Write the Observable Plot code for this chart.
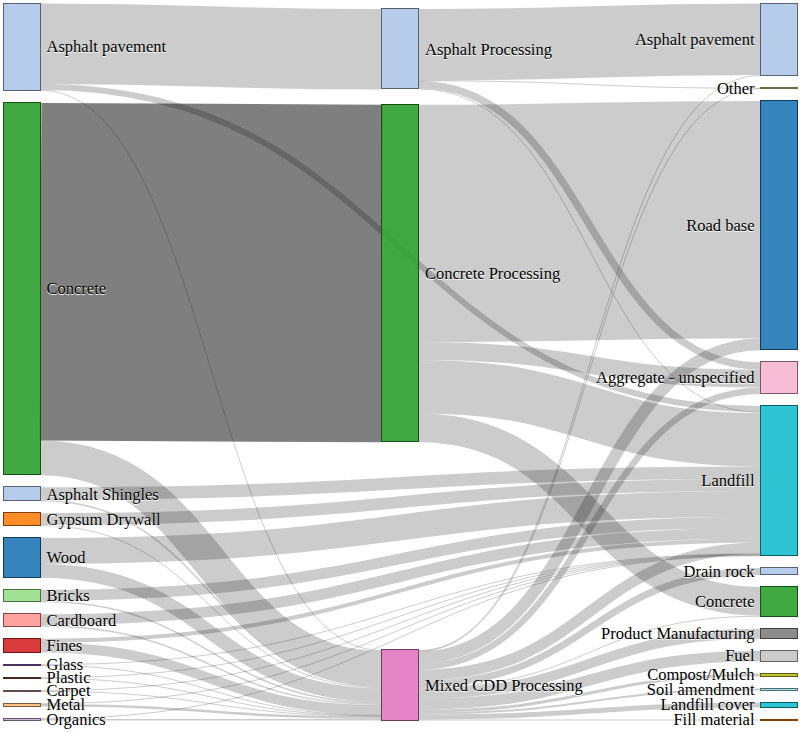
<!DOCTYPE html>
<html>
<head>
<meta charset="utf-8">
<script src="https://cdn.jsdelivr.net/npm/d3@7"></script>
<script src="https://cdn.jsdelivr.net/npm/@observablehq/plot@0.6"></script>
<style>
  body { margin: 0; background: #fff; }
  #chart svg text { font-family: "Liberation Serif", "Times New Roman", serif !important; text-shadow: 0 1px 0 #fff; }
</style>
</head>
<body>
<div id="chart"></div>
<script>
// ---- Data ----
const nodeNames = [
  "Asphalt pavement", "Concrete", "Asphalt Shingles", "Gypsum Drywall", "Wood", "Bricks",
  "Cardboard", "Fines", "Glass", "Plastic", "Carpet", "Metal", "Organics",
  "Asphalt Processing", "Concrete Processing", "Mixed CDD Processing",
  "Asphalt pavement", "Other", "Road base", "Aggregate - unspecified", "Landfill", "Drain rock",
  "Concrete", "Product Manufacturing", "Fuel", "Compost/Mulch", "Soil amendment",
  "Landfill cover", "Fill material"
];
const nodeColors = [
  "#aec7e8", "#2ca02c", "#aec7e8", "#ff7f0e", "#1f77b4", "#98df8a",
  "#ff9896", "#d62728", "#9467bd", "#8c564b", "#c49c94", "#ffbb78", "#c5b0d5",
  "#aec7e8", "#2ca02c", "#e377c2",
  "#aec7e8", "#dbdb8d", "#1f77b4", "#f7b6d2", "#17becf", "#aec7e8",
  "#2ca02c", "#7f7f7f", "#c7c7c7", "#bcbd22", "#9edae5",
  "#17becf", "#ff7f0e"
];
// flows: source index, target index, value
const linkSource = [0, 0, 0, 1, 1, 2, 2, 3, 3, 4, 4, 5, 5, 6, 6, 7, 7, 8, 8, 9, 9, 10, 10, 11, 11, 12, 12,
  13, 13, 13, 13, 14, 14, 14, 14,
  15, 15, 15, 15, 15, 15, 15, 15, 15, 15, 15, 15, 15];
const linkTarget = [13, 20, 15, 14, 15, 20, 15, 20, 15, 20, 15, 20, 15, 20, 15, 20, 15, 20, 15, 20, 15, 20, 15, 20, 15, 20, 15,
  16, 17, 19, 20, 18, 19, 20, 22,
  16, 17, 18, 19, 20, 21, 22, 23, 24, 25, 26, 27, 28];
const linkValue = [81, 6, 1, 340, 35, 12.5, 1.5, 12, 1, 26, 14, 11, 1.5, 11, 1.5, 4, 10, 0.5, 0.5, 0.5, 0.5, 0.5, 0.5, 0.5, 2.5, 0.5, 1.5,
  72, 0.5, 7.5, 1, 239, 18, 54, 29,
  1, 0.5, 12, 6.5, 11, 7, 1, 10, 11, 3, 2, 5, 1];
// layout hints
const pinnedBottom = ["Mixed CDD Processing"];
const highlighted = [[1, 14]]; // Concrete -> Concrete Processing

// ---- Sankey layout (port of d3-sankey 0.12, input order kept) ----
function sankeyLayout(nodes, links, opt) {
  const {x0, x1, y0, y1, nodeWidth, nodePadding, iterations} = opt;
  nodes.forEach((n, i) => { n.index = i; n.sourceLinks = []; n.targetLinks = []; });
  links.forEach((l, i) => { l.index = i; l.source.sourceLinks.push(l); l.target.targetLinks.push(l); });
  for (const n of nodes) n.value = Math.max(d3.sum(n.sourceLinks, l => l.value), d3.sum(n.targetLinks, l => l.value));
  let current = new Set(nodes), next = new Set(), x = 0;
  while (current.size) {
    for (const n of current) { n.depth = x; for (const l of n.sourceLinks) next.add(l.target); }
    if (++x > nodes.length) throw new Error("circular");
    current = next; next = new Set();
  }
  const nL = d3.max(nodes, d => d.depth) + 1;
  const kx = (x1 - x0 - nodeWidth) / (nL - 1);
  const columns = Array.from({length: nL}, () => []);
  for (const n of nodes) {
    const i = n.sourceLinks.length ? n.depth : nL - 1;
    n.layer = i; n.x0 = x0 + i * kx; n.x1 = n.x0 + nodeWidth;
    columns[i].push(n);
  }
  const py = Math.min(nodePadding, (y1 - y0) / (d3.max(columns, c => c.length) - 1));
  const ky = d3.min(columns, c => (y1 - y0 - (c.length - 1) * py) / d3.sum(c, d => d.value));

  const ascBreadth = (a, b) => a.y0 - b.y0;
  const ascSrc = (a, b) => ascBreadth(a.source, b.source) || a.index - b.index;
  const ascTgt = (a, b) => ascBreadth(a.target, b.target) || a.index - b.index;
  function reorderLinks(ns) { for (const n of ns) { n.sourceLinks.sort(ascTgt); n.targetLinks.sort(ascSrc); } }
  function reorderNodeLinks(n) {
    for (const l of n.targetLinks) l.source.sourceLinks.sort(ascTgt);
    for (const l of n.sourceLinks) l.target.targetLinks.sort(ascSrc);
  }
  for (const ns of columns) {
    let y = y0;
    for (const n of ns) {
      n.y0 = y; n.y1 = y + n.value * ky; y = n.y1 + py;
      for (const l of n.sourceLinks) l.width = l.value * ky;
    }
    y = (y1 - y + py) / (ns.length + 1);
    ns.forEach((n, i) => { n.y0 += y * (i + 1); n.y1 += y * (i + 1); });
    reorderLinks(ns);
  }
  function targetTop(source, target) {
    let y = source.y0 - (source.sourceLinks.length - 1) * py / 2;
    for (const l of source.sourceLinks) { if (l.target === target) break; y += l.width + py; }
    for (const l of target.targetLinks) { if (l.source === source) break; y -= l.width; }
    return y;
  }
  function sourceTop(source, target) {
    let y = target.y0 - (target.targetLinks.length - 1) * py / 2;
    for (const l of target.targetLinks) { if (l.source === source) break; y += l.width + py; }
    for (const l of source.sourceLinks) { if (l.target === target) break; y -= l.width; }
    return y;
  }
  function idealFromRight(s) {
    let y = 0, w = 0;
    for (const l of s.sourceLinks) { const v = l.value * (l.target.layer - s.layer); y += sourceTop(s, l.target) * v; w += v; }
    return w > 0 ? y / w : null;
  }
  function idealFromLeft(t) {
    let y = 0, w = 0;
    for (const l of t.targetLinks) { const v = l.value * (t.layer - l.source.layer); y += targetTop(l.source, t) * v; w += v; }
    return w > 0 ? y / w : null;
  }
  function topToBottom(ns, y, i, a) {
    for (; i < ns.length; ++i) { const n = ns[i]; const dy = (y - n.y0) * a; if (dy > 1e-6) { n.y0 += dy; n.y1 += dy; } y = n.y1 + py; }
  }
  function bottomToTop(ns, y, i, a) {
    for (; i >= 0; --i) { const n = ns[i]; const dy = (n.y1 - y) * a; if (dy > 1e-6) { n.y0 -= dy; n.y1 -= dy; } y = n.y0 - py; }
  }
  function resolve(ns, a) {
    const i = ns.length >> 1, s = ns[i];
    bottomToTop(ns, s.y0 - py, i - 1, a);
    topToBottom(ns, s.y1 + py, i + 1, a);
    bottomToTop(ns, y1, ns.length - 1, a);
    topToBottom(ns, y0, 0, a);
  }
  for (let it = 0; it < iterations; ++it) {
    const alpha = Math.pow(0.99, it);
    const beta = Math.max(1 - alpha, (it + 1) / iterations);
    for (let i = columns.length - 2; i >= 0; --i) {
      for (const s of columns[i]) {
        const yi = idealFromRight(s); if (yi === null) continue;
        const dy = (yi - s.y0) * alpha; s.y0 += dy; s.y1 += dy; reorderNodeLinks(s);
      }
      resolve(columns[i], beta);
    }
    for (let i = 1; i < columns.length; ++i) {
      for (const t of columns[i]) {
        const yi = idealFromLeft(t); if (yi === null) continue;
        const dy = (yi - t.y0) * alpha; t.y0 += dy; t.y1 += dy; reorderNodeLinks(t);
      }
      resolve(columns[i], beta);
    }
  }
  // final balance of inner columns between their left and right neighbours
  for (let i = 1; i < columns.length - 1; ++i) {
    for (const n of columns[i]) {
      const a = idealFromLeft(n), b = idealFromRight(n);
      const yi = (a + b) / 2; const h = n.y1 - n.y0; n.y0 = yi; n.y1 = yi + h;
    }
    resolve(columns[i], 1);
  }
  // apply bottom alignment hints
  for (const n of nodes) {
    if (opt.pinned.includes(n.name)) { const h = n.y1 - n.y0; n.y1 = y1; n.y0 = y1 - h; }
  }
  for (const ns of columns) { ns.sort(ascBreadth); bottomToTop(ns, y1, ns.length - 1, 1); topToBottom(ns, y0, 0, 1); }
  reorderLinks(nodes);
  for (const n of nodes) {
    let a = n.y0, b = n.y0;
    for (const l of n.sourceLinks) { l.y0 = a + l.width / 2; a += l.width; }
    for (const l of n.targetLinks) { l.y1 = b + l.width / 2; b += l.width; }
  }
  return {nodes, links};
}

const nodes = nodeNames.map((name, i) => ({name, color: nodeColors[i], edge: d3.rgb(nodeColors[i]).darker(2).formatHex()}));
const links = linkValue.map((value, i) => ({
  source: nodes[linkSource[i]], target: nodes[linkTarget[i]], value,
  hot: highlighted.some(([s, t]) => s === linkSource[i] && t === linkTarget[i])
}));
const W = 800, H = 733;
sankeyLayout(nodes, links, {x0: 3, x1: 797, y0: 3, y1: 720, nodeWidth: 37, nodePadding: 12, iterations: 6, pinned: pinnedBottom});

const linkOpts = {
  x1: d => d.source.x1, y1: d => d.y0, x2: d => d.target.x0, y2: d => d.y1,
  curve: "bump-x", stroke: "#000", strokeWidth: d => Math.max(1, d.width)
};
const font = "'Liberation Serif', 'Times New Roman', serif";
const FS = 16.5;
const chart = Plot.plot({
  width: W, height: H, margin: 0,
  x: {domain: [0, W], range: [0, W], axis: null},
  y: {domain: [0, H], range: [0, H], axis: null},
  style: {fontFamily: font, background: "#fff"},
  marks: [
    Plot.link(links.filter(d => !d.hot), {...linkOpts, strokeOpacity: 0.2}),
    Plot.link(links.filter(d => d.hot), {...linkOpts, strokeOpacity: 0.5}),
    Plot.rect(nodes, {x1: "x0", x2: "x1", y1: "y0", y2: "y1", fill: "color", fillOpacity: 0.9, stroke: "edge", strokeWidth: 1, shapeRendering: "crispEdges"}),
    Plot.text(nodes.filter(d => d.x0 < W / 2), {x: d => d.x1 + 6, y: d => (d.y0 + d.y1) / 2, text: "name", textAnchor: "start", fontSize: FS, fill: "#000", fontFamily: font}),
    Plot.text(nodes.filter(d => d.x0 >= W / 2), {x: d => d.x0 - 6, y: d => (d.y0 + d.y1) / 2, text: "name", textAnchor: "end", fontSize: FS, fill: "#000", fontFamily: font})
  ]
});
document.getElementById("chart").appendChild(chart);
</script>
</body>
</html>
